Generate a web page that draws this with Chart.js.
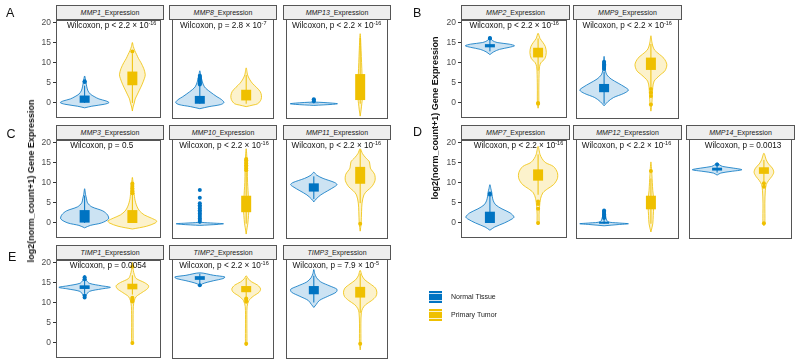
<!DOCTYPE html>
<html>
<head>
<meta charset="utf-8">
<title>MMP / TIMP expression violins</title>
<script src="https://cdn.jsdelivr.net/npm/chart.js"></script>
<style>
  body { margin: 0; width: 797px; height: 364px; background: #fff; position: relative; overflow: hidden; font-family: "Liberation Sans", Arial, sans-serif; }
  canvas { position: absolute; }
  .strip { position: absolute; box-sizing: border-box; height: 15px; border: 1px solid #555; background: #eeeeee; font-size: 7px; line-height: 13px; text-align: center; color: #1a1a1a; white-space: nowrap; }
  .pval { position: absolute; font-size: 8.2px; line-height: 10px; white-space: nowrap; color: #111; transform: translateX(-50%); }
  .pval sup { font-size: 5.5px; vertical-align: 3px; line-height: 0; }
  .tag { position: absolute; font-size: 12.5px; line-height: 1; color: #111; }
  .ytitle { position: absolute; font-size: 9px; font-weight: bold; white-space: nowrap; color: #111; transform: translate(-50%, -50%) rotate(-90deg); }
  .key { position: absolute; width: 13px; height: 12px; }
  .keytxt { position: absolute; font-size: 7px; line-height: 10px; color: #222; }
</style>
</head>
<body>
<script>
// facets, in reading order A (3), B (2), C (3), D (3), E (3)
const genes = ['MMP1', 'MMP8', 'MMP13', 'MMP2', 'MMP9', 'MMP3', 'MMP10', 'MMP11', 'MMP7', 'MMP12', 'MMP14', 'TIMP1', 'TIMP2', 'TIMP3'];
const groups = ['Normal Tissue', 'Primary Tumor'];
const pSign = ['<', '=', '<', '<', '<', '=', '<', '<', '<', '<', '=', '=', '<', '='];
const pMant = ['2.2', '2.8', '2.2', '2.2', '2.2', '0.5', '2.2', '2.2', '2.2', '2.2', '0.0013', '0.0054', '2.2', '7.9'];
const pExp = ['-16', '-7', '-16', '-16', '-16', '', '-16', '-16', '-16', '-16', '', '', '-16', '-5'];
const yTicks = [0, 5, 10, 15, 20];

// violin profiles: [log2 expression, half width]
const normalViolin = [
  [[-1.2,0],[-0.8,0.15],[-0.3,0.42],[0.1,0.51],[0.5,0.45],[1,0.3],[1.6,0.2],[2.2,0.12],[3,0.07],[4,0.045],[5,0.03],[6,0.015],[6.7,0]],
  [[-1.2,0],[-0.7,0.2],[-0.2,0.45],[0.3,0.52],[1,0.47],[1.7,0.37],[2.9,0.22],[4.1,0.1],[5.5,0.05],[7,0.02],[8,0]],
  [[-0.4,0],[-0.15,0.4],[0,0.51],[0.15,0.4],[0.4,0]],
  [[12,0],[12.7,0.08],[13.3,0.2],[13.8,0.4],[14.2,0.51],[14.6,0.4],[15,0.15],[15.5,0.05],[16.3,0]],
  [[-0.5,0],[0.5,0.08],[1.5,0.2],[2.5,0.42],[3.3,0.52],[4,0.45],[5,0.3],[6,0.15],[7,0.06],[8,0.03],[10,0.015],[11.5,0]],
  [[-1.2,0],[-0.6,0.12],[0,0.35],[1,0.5],[2,0.48],[3,0.38],[4,0.15],[5,0.06],[6,0.04],[7,0.02],[8.5,0]],
  [[-0.4,0],[-0.15,0.4],[0,0.51],[0.15,0.3],[0.35,0.03],[0.6,0]],
  [[5.3,0],[6,0.05],[7,0.15],[8,0.3],[9,0.45],[9.5,0.5],[10,0.45],[11,0.2],[11.8,0.06],[12.5,0]],
  [[-1.8,0],[-1,0.1],[0,0.3],[1,0.46],[1.5,0.5],[2.5,0.42],[3.5,0.25],[4.5,0.12],[5.5,0.07],[6.5,0.05],[7.5,0.04],[8.5,0.02],[9.5,0]],
  [[-0.5,0],[-0.2,0.3],[0,0.52],[0.2,0.3],[0.5,0.08],[1.5,0.04],[3.5,0]],
  [[11.8,0],[12.3,0.08],[12.7,0.3],[13.1,0.53],[13.5,0.35],[13.9,0.12],[14.3,0.05],[14.8,0]],
  [[11,0],[12,0.04],[12.8,0.1],[13.4,0.35],[13.8,0.54],[14.2,0.35],[14.8,0.1],[15.5,0.04],[16.8,0]],
  [[13.8,0],[14.5,0.05],[15.3,0.3],[15.8,0.5],[16.2,0.54],[16.6,0.3],[17.2,0]],
  [[8.8,0],[9.5,0.05],[10.5,0.12],[11.5,0.3],[12.5,0.48],[13.2,0.5],[14,0.35],[15,0.15],[16,0.06],[17,0.02],[18,0]]
];
const tumorViolin = [
  [[-2,0],[-1,0.015],[0,0.04],[1,0.06],[2,0.1],[3,0.14],[4.5,0.2],[6,0.25],[7,0.27],[8.5,0.24],[10,0.18],[11,0.13],[12,0.09],[13,0.05],[14,0.02],[15,0]],
  [[-0.7,0],[-0.3,0.15],[0,0.25],[1,0.32],[2,0.33],[3,0.3],[4,0.22],[5,0.13],[6,0.07],[7,0.03],[8.7,0]],
  [[-3,0],[-1.5,0.02],[0,0.035],[1,0.045],[4,0.045],[7,0.04],[10,0.03],[13,0.02],[17,0]],
  [[-1.3,0],[0,0.015],[3,0.015],[7,0.02],[9,0.03],[10,0.06],[11,0.14],[12.5,0.17],[14,0.15],[15,0.1],[16,0.04],[17.3,0]],
  [[-1.8,0],[0,0.02],[2,0.03],[4,0.04],[5.5,0.07],[7,0.2],[8,0.3],[9.5,0.34],[11,0.28],[12,0.18],[13,0.08],[14,0.04],[15,0.02],[16.5,0]],
  [[-1.5,0],[-0.8,0.3],[0,0.48],[0.5,0.51],[1.2,0.4],[2,0.25],[3,0.15],[4,0.1],[5,0.07],[6,0.05],[7,0.04],[8,0.03],[9,0.02],[10,0.015],[11.3,0]],
  [[-2.5,0],[-1,0.02],[0,0.035],[2,0.05],[4,0.06],[6,0.05],[8,0.04],[10,0.03],[13,0.025],[15,0.02],[18.2,0]],
  [[-1.8,0],[0,0.02],[3,0.03],[5,0.04],[7,0.08],[8,0.15],[9,0.25],[10.5,0.32],[12,0.31],[13.5,0.22],[15,0.2],[16,0.12],[17,0.05],[18.2,0]],
  [[-0.5,0],[0,0.02],[2,0.02],[4,0.03],[6,0.05],[7.5,0.1],[8.5,0.2],[9.5,0.32],[11,0.4],[12.5,0.4],[14,0.32],[15,0.15],[16,0.08],[17,0.04],[19,0]],
  [[-2,0],[0,0.04],[2,0.05],[4,0.06],[6,0.06],[8,0.04],[10,0.03],[12,0.02],[15,0]],
  [[-0.5,0],[0,0.02],[5,0.02],[8,0.03],[9.5,0.05],[10.5,0.1],[11.5,0.17],[12.5,0.21],[13.5,0.18],[14.5,0.1],[15.5,0.05],[17.1,0]],
  [[-0.5,0],[0,0.015],[5,0.015],[9,0.02],[10.5,0.04],[11.5,0.08],[12.5,0.2],[13.5,0.32],[14.2,0.34],[15,0.25],[16,0.08],[17,0.04],[18,0.02],[20,0]],
  [[-0.5,0],[0,0.015],[5,0.015],[9,0.02],[10.5,0.06],[11.5,0.15],[12.5,0.28],[13.3,0.31],[14.2,0.25],[15,0.12],[15.8,0.04],[16.5,0]],
  [[-1.5,0],[0,0.015],[5,0.015],[7.5,0.025],[8.5,0.05],[9.5,0.12],[10.5,0.25],[11.5,0.34],[12.5,0.36],[13.5,0.33],[14.5,0.22],[15.5,0.1],[16.5,0.04],[17.8,0]]
];

// boxplots: [lower whisker, q1, q3, upper whisker]
const normalBox = [
  [0,0.05,1.85,4.3], [0,0,1.9,4.5], [0,0,0.05,0.05], [12.8,13.8,14.6,15.6], [0,2.8,4.8,7.8],
  [0,0.1,3.2,6.8], [0,0,0,0.1], [6,7.8,9.8,11.5], [0,0,2.8,6.5], [0,0,0.5,1.2], [12.4,12.9,13.6,14.2],
  [12.2,13.4,14.3,15.5], [14.5,15.5,16.4,17], [10,12,14,16.5]
];
const tumorBox = [
  [0,4.4,7.8,12.3], [0,0.8,3.4,7], [0,0.9,7.2,16], [8,11.3,13.7,16], [4,8.2,11.2,14.5],
  [0,0,3.2,7], [0,2.8,6.8,12.5], [5,9.7,13.8,18], [7,10.5,13.3,17], [0,3.5,6.8,11], [10.2,12.1,13.7,15.5],
  [12,13.3,14.7,16.8], [11,12.5,14,16], [7.5,11.2,13.8,17]
];
const normalOut = [
  [5.2,5.4], [4.7,5,5.3,5.6,5.9,6.2,6.5,6.8], [0.6,0.9,1.1], [16,16.1], [8.4,8.7,9,9.3,9.6,9.9,10.2],
  [], [0.5,0.9,1.3,1.7,2.1,2.5,2.9,3.3,3.7,4.1,4.5,5,6.3,8.2], [], [7,7.3], [1.4,1.7,2,2.3,2.6,2.9,3.2], [14.4],
  [11.3,11.7,15.8,16.3], [14.2], []
];
const tumorOut = [
  [12.8], [], [], [-0.2,0], [-0.2,1.9,2.7,3.6],
  [7.4,7.8,8.2,8.6,9,9.4,9.8], [13,13.4,13.8,14.2,14.6,15,15.4,15.7], [0], [0,3.5,4.7,5.3], [12.8], [0.1,9,9.8],
  [0,10.3,10.6,10.9,11.2,19], [0,10.2,10.6,11], [0]
];

// layout
const panelPos = [[56,19],[169,19],[283,19],[461,19],[573,19],[56,139],[169,139],[283,139],[461,139],[573,139],[686,139],[56,259],[169,259],[283,259]];
const panelW = [108,108,108,109,109,108,108,108,109,109,109,108,108,108];
const pvalDx = [55.7,54.3,53.7,53.2,54.2,45.8,55,53.3,57.5,53.5,57,52,55,52.8];
const withAxis = [true,false,false,true,false,true,false,false,true,false,false,true,false,false];
const colors = ['#0073C2', '#EFC000'];
const fills = ['rgba(0,115,194,0.2)', 'rgba(239,192,0,0.2)'];

function addDiv(cls, left, top, html) {
  const d = document.createElement('div');
  d.className = cls;
  d.style.left = left + 'px';
  d.style.top = top + 'px';
  d.innerHTML = html;
  document.body.appendChild(d);
  return d;
}

function violinPoints(profile, c) {
  const right = profile.map(([y, w]) => ({x: c + w, y}));
  const left = profile.slice().reverse().slice(1).map(([y, w]) => ({x: c - w, y}));
  return right.concat(left);
}

function groupDatasets(g, profile, box, out) {
  const c = g + 1;
  return [
    {data: violinPoints(profile, c), showLine: true, fill: 'shape', backgroundColor: fills[g], borderColor: colors[g], borderWidth: 0.8, pointRadius: 0, tension: 0.3, order: 10},
    {data: [{x: c, y: box[0]}, {x: c, y: box[3]}], showLine: true, borderColor: colors[g], borderWidth: 1, pointRadius: 0, order: 5},
    {data: [{x: c, y: box[1]}, {x: c, y: box[2]}], showLine: true, borderColor: colors[g], borderWidth: 10, borderCapStyle: 'butt', pointRadius: 0, order: 3},
    {data: out.map(y => ({x: c, y})), showLine: false, pointRadius: 2, pointBackgroundColor: colors[g], pointBorderWidth: 0, order: 1}
  ];
}

const panelBorder = {
  id: 'panelBorder',
  afterDatasetsDraw(chart) {
    const {ctx, chartArea: a} = chart;
    ctx.save();
    ctx.strokeStyle = '#555';
    ctx.lineWidth = 1;
    ctx.strokeRect(Math.round(a.left) + 0.5, Math.round(a.top) + 0.5, Math.round(a.width) - 1, Math.round(a.height) - 1);
    ctx.restore();
  }
};

genes.forEach((gene, i) => {
  const [left, top] = panelPos[i];
  const w = panelW[i];
  const axisW = withAxis[i] ? 26 : 0;
  const cv = document.createElement('canvas');
  cv.width = w + axisW + 2;
  cv.height = 112;
  cv.style.left = (left - axisW - 1) + 'px';
  cv.style.top = (top - 6) + 'px';
  document.body.appendChild(cv);

  new Chart(cv, {
    type: 'scatter',
    data: {
      datasets: [
        ...groupDatasets(0, normalViolin[i], normalBox[i], normalOut[i]),
        ...groupDatasets(1, tumorViolin[i], tumorBox[i], tumorOut[i])
      ]
    },
    options: {
      responsive: false,
      animation: false,
      events: [],
      layout: {padding: {top: 6, bottom: 6, left: 1, right: 1}},
      plugins: {legend: {display: false}, tooltip: {enabled: false}},
      scales: {
        x: {type: 'linear', min: 0.4, max: 2.6, display: false},
        y: {
          type: 'linear', min: -3.7, max: 20.56, display: withAxis[i],
          afterFit: s => { s.width = axisW; },
          afterBuildTicks: s => { s.ticks = yTicks.map(v => ({value: v})); },
          grid: {drawOnChartArea: false, drawTicks: true, tickLength: 3, color: '#333'},
          border: {display: false},
          ticks: {padding: 2, color: '#4d4d4d', font: {family: 'Liberation Sans', size: 8.5}}
        }
      }
    },
    plugins: [panelBorder]
  });

  const strip = addDiv('strip', left, top - 14, '<i>' + gene + '</i>_Expression');
  strip.style.width = w + 'px';
  const sup = pExp[i] ? ' × 10<sup>' + pExp[i] + '</sup>' : '';
  addDiv('pval', left + pvalDx[i], top + 2.3, 'Wilcoxon, p ' + pSign[i] + ' ' + pMant[i] + sup);
});

// panel letters
[['A', 6, 7.4], ['B', 413, 7.4], ['C', 6.5, 128.4], ['D', 413, 125.7], ['E', 8, 251]].forEach(([t, x, y]) => addDiv('tag', x, y, t));

// y axis titles
addDiv('ytitle', 31, 181, 'log2(norm_count+1) Gene Expression');
addDiv('ytitle', 435, 118, 'log2(norm_count+1) Gene Expression');

// legend
groups.forEach((g, k) => {
  const y = 291 + k * 18.3;
  const key = addDiv('key', 429, y, '');
  key.style.background = 'linear-gradient(to bottom, ' + colors[k] + ' 0 2px, ' + fills[k] + ' 2px 3px, ' + colors[k] + ' 3px 9px, ' + fills[k] + ' 9px 10px, ' + colors[k] + ' 10px)';
  addDiv('keytxt', 451, y + 1, g);
});
</script>
</body>
</html>
